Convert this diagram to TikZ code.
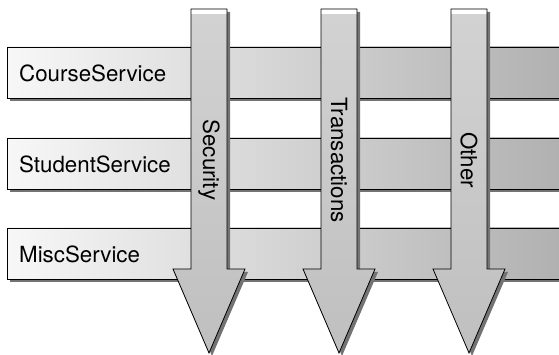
\documentclass[tikz,border=0pt]{standalone}
\usepackage{fontspec}
\setsansfont{TeX Gyre Heros}

\tikzset{
  dropshade/.style={fill=black!55},
  servicebar/.style={draw=black, line width=0.8pt, left color=gray!6, right color=gray!62},
  aspectarrow/.style={top color=gray!35, middle color=gray!4, bottom color=gray!50},
  outline/.style={draw=black, line width=0.8pt},
  barlabel/.style={anchor=west, inner sep=0pt, font=\sffamily\fontsize{22.3}{25}\selectfont},
  aspectlabel/.style={rotate=-90, inner sep=0pt, font=\sffamily\fontsize{22.3}{25}\selectfont}
}

\begin{document}
\begin{tikzpicture}[x=1pt,y=1pt]
    \useasboundingbox (0,0) rectangle (559,355);
    \clip (0,0) rectangle (559,355);

    % services
    \foreach \yb/\name/\txt in {257/course/CourseService, 166/student/StudentService, 76/misc/MiscService} {
        \fill[dropshade] (10,\yb-3) rectangle (566,\yb+48);
        \path[servicebar] (7,\yb) rectangle (566,\yb+51);
        \node[barlabel] (\name) at (19,\yb+25) {\txt};
    }

    % cross-cutting concerns
    \foreach \xa/\name/\txt in {209/security/Security, 339/transactions/Transactions, 469/other/Other} {
        \begin{scope}[shift={(3,-3)}]
            \fill[dropshade] (\xa-18,346) -- (\xa+18,346) -- (\xa+18,86) -- (\xa+36,86)
                -- (\xa,2) -- (\xa-36,86) -- (\xa-18,86) -- cycle;
        \end{scope}
        \path[aspectarrow] (\xa-18,346) -- (\xa+18,346) -- (\xa+18,86) -- (\xa+36,86)
            -- (\xa,2) -- (\xa-36,86) -- (\xa-18,86) -- cycle;
        \fill[white] (\xa-18,346) rectangle (\xa+18,341);
        \path[outline] (\xa-18,346) -- (\xa+18,346) -- (\xa+18,86) -- (\xa+36,86)
            -- (\xa,2) -- (\xa-36,86) -- (\xa-18,86) -- cycle;
        \node[aspectlabel] (\name) at (\xa,195) {\txt};
    }

\end{tikzpicture}
\end{document}
